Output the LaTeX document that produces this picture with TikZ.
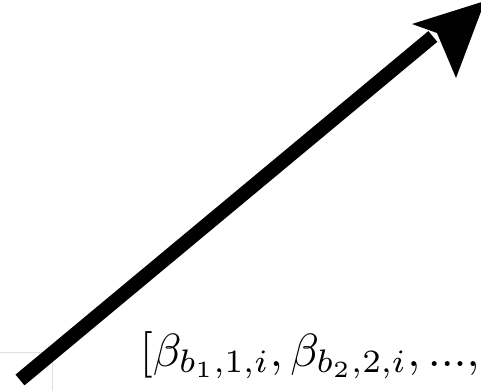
\documentclass[tikz,border=0pt]{standalone}
\usetikzlibrary{calc}
\begin{document}
\begin{tikzpicture}[x=1pt,y=1pt,
  shaft/.style={line width=14pt,line cap=butt,black},
  framebox/.style={draw=black!12,line width=0.8pt},
  lbl/.style={inner sep=0pt,anchor=base west,scale=4.65}]
\useasboundingbox (0,0) rectangle (481,391);
\clip (0,0) rectangle (481,391);
\fill[white] (0,0) rectangle (481,391);
\coordinate (corner) at (52,39);
\coordinate (fl) at (0,39);
\coordinate (fb) at (52,0);
\draw[framebox] (fl) -- (corner) -- (fb);
\coordinate (tail) at (20,11);
\coordinate (notch) at (437,358);
\coordinate (barbL) at (412,367);
\coordinate (tip) at (485,390);
\coordinate (barbR) at (456,313);
\draw[shaft] (tail) -- ($(tail)!0.99!(notch)$);
\fill (barbL) -- (tip) -- (barbR) -- (notch) -- cycle;
\node[lbl] (t) at (139,25) {$[\beta_{b_1,1,i},\beta_{b_2,2,i},...,$};
\end{tikzpicture}
\end{document}
